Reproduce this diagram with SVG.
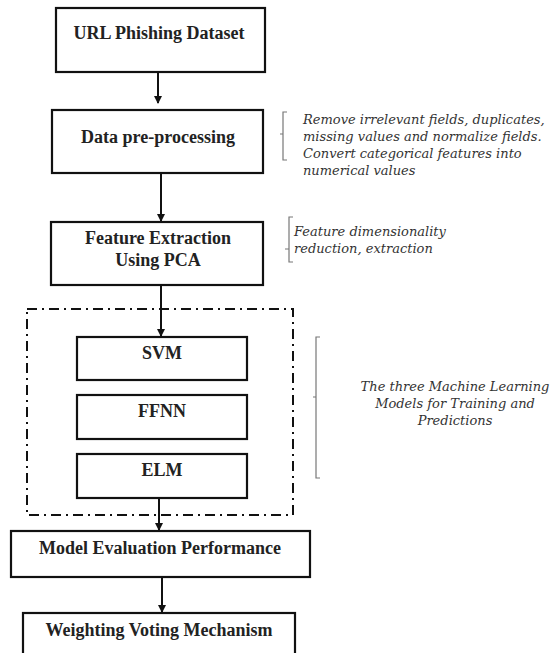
<svg xmlns="http://www.w3.org/2000/svg" width="553" height="653" viewBox="0 0 553 653">
<defs>
<marker id="ah" markerWidth="8" markerHeight="8" refX="7" refY="4" orient="auto" markerUnits="userSpaceOnUse">
<path d="M0,0 L8,4 L0,8 Z" fill="#111"/>
</marker>
<style>
.box{fill:#fff;stroke:#111;stroke-width:2.2}
.lbl{font-family:"Liberation Serif","Times New Roman",serif;font-weight:bold;font-size:18px;fill:#222;text-anchor:middle}
.note{font-family:"DejaVu Serif",serif;font-style:italic;font-size:13px;fill:#333}
.brk{fill:none;stroke:#777;stroke-width:1.2}
.con{stroke:#111;stroke-width:2;fill:none;marker-end:url(#ah)}
.grp{fill:none;stroke:#111;stroke-width:2;stroke-dasharray:10 5 2 5}
</style>
</defs>
<rect width="553" height="653" fill="#fff"/>
<rect id="model-group" class="grp" x="27" y="309" width="266" height="206"/>
<g id="connectors">
<line class="con" x1="158" y1="72" x2="158" y2="103"/>
<line class="con" x1="161" y1="173" x2="161" y2="221"/>
<line class="con" x1="161" y1="285" x2="161" y2="336"/>
<line class="con" x1="159" y1="498" x2="159" y2="530"/>
<line class="con" x1="162" y1="577" x2="162" y2="612"/>
</g>
<g id="n-dataset"><rect class="box" x="56" y="8" width="209" height="64"/><text class="lbl" x="159" y="39">URL Phishing Dataset</text></g>
<g id="n-preproc"><rect class="box" x="52" y="110" width="211" height="63"/><text class="lbl" x="158" y="143">Data pre-processing</text></g>
<g id="n-pca"><rect class="box" x="51" y="222" width="212" height="63"/><text class="lbl" x="158" y="244">Feature Extraction</text><text class="lbl" x="158" y="266">Using PCA</text></g>
<g id="n-svm"><rect class="box" x="77" y="337" width="170" height="43"/><text class="lbl" x="162" y="359">SVM</text></g>
<g id="n-ffnn"><rect class="box" x="77" y="395" width="170" height="44"/><text class="lbl" x="162" y="417">FFNN</text></g>
<g id="n-elm"><rect class="box" x="77" y="454" width="170" height="44"/><text class="lbl" x="162" y="476">ELM</text></g>
<g id="n-eval"><rect class="box" x="11" y="531" width="299" height="46"/><text class="lbl" x="160" y="554">Model Evaluation Performance</text></g>
<g id="n-vote"><rect class="box" x="23" y="613" width="272" height="50"/><text class="lbl" x="159" y="636">Weighting Voting Mechanism</text></g>
<g id="a-preproc">
<path class="brk" d="M287,112 L283,112 L283,160 L287,160 M283,134 L280,134"/>
<text class="note" x="303" y="124">Remove irrelevant fields, duplicates,</text>
<text class="note" x="303" y="141">missing values and normalize fields.</text>
<text class="note" x="303" y="158">Convert categorical features into</text>
<text class="note" x="303" y="175">numerical values</text>
</g>
<g id="a-pca">
<path class="brk" d="M293,217 L289,217 L289,262 L293,262 M289,249 L285,249"/>
<text class="note" x="294" y="236">Feature dimensionality</text>
<text class="note" x="294" y="253">reduction, extraction</text>
</g>
<g id="a-models">
<path class="brk" d="M320,337 L316,337 L316,478 L320,478 M316,397 L313,397"/>
<text class="note" x="455" y="391" text-anchor="middle">The three Machine Learning</text>
<text class="note" x="455" y="408" text-anchor="middle">Models for Training and</text>
<text class="note" x="455" y="425" text-anchor="middle">Predictions</text>
</g>
</svg>
